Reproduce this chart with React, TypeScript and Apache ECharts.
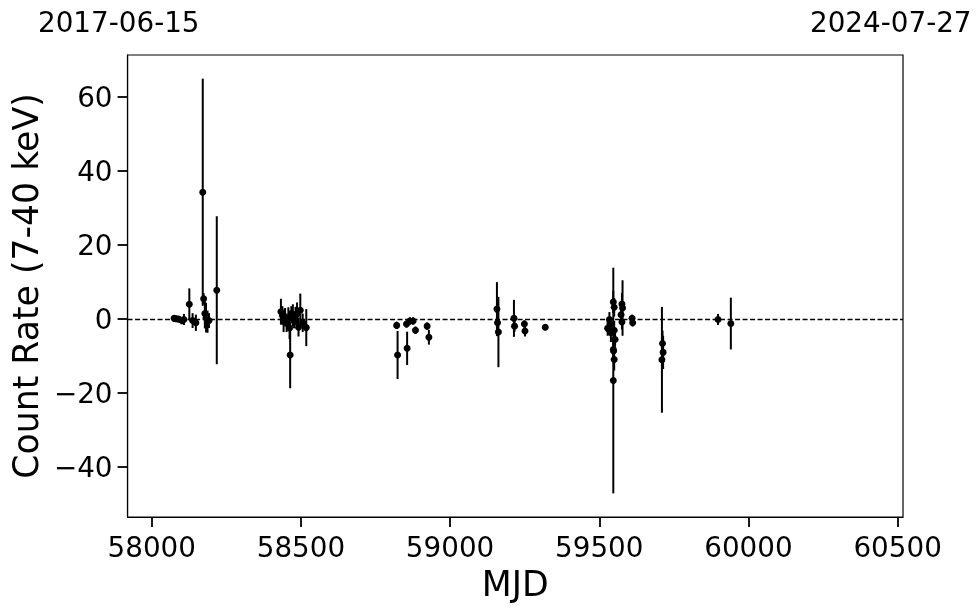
import React, { useEffect, useRef } from "react";
import * as echarts from "echarts";

const mjd = [
  58075, 58082, 58090, 58101, 58108, 58126, 58137, 58148, 58171, 58174, 58178, 58182, 58187, 58192, 58218,
  58433, 58438, 58442, 58447, 58452, 58458, 58462, 58464, 58468, 58473, 58477, 58482, 58487, 58492, 58498, 58506, 58518,
  58821, 58824, 58854, 58856, 58865, 58876, 58884, 58923, 58929,
  59157, 59159, 59162, 59214, 59216, 59249, 59251, 59319,
  59534, 59528, 59537, 59539, 59547, 59550, 59550, 59553, 59547, 59548, 59550, 59547,
  59573, 59576, 59578, 59576, 59610, 59612,
  59710, 59712, 59714, 59898, 59941,
];
const rate = [
  0.2, 0.1, 0.0, -0.4, -0.1, 4.0, -0.4, -1.0, 34.3, 5.5, 1.5, 0.4, -0.7, -0.4, 7.8,
  2.0, 1.0, -0.5, 0.5, -1.0, 0.2, -2.4, -9.7, 1.5, 1.0, -0.5, 0.8, 1.5, -2.2, 2.4, -1.0, -2.3,
  -1.7, -9.7, -1.3, -7.9, -0.5, -0.5, -3.0, -1.9, -4.9,
  2.7, -1.0, -3.5, 0.2, -1.9, -1.3, -3.2, -2.2,
  -0.1, -2.5, -1.4, -3.7, 4.6, 3.2, -3.0, -5.5, -8.2, -8.6, -10.9, -16.6,
  1.2, 4.1, 3.0, -0.8, 0.2, -1.0,
  -11.0, -6.6, -9.0, -0.1, -1.2,
];
const err = [
  0.8, 0.8, 0.8, 1.0, 1.5, 4.3, 2.0, 2.2, 30.7, 1.5, 4.0, 4.0, 3.0, 2.0, 20.0,
  3.5, 2.5, 3.0, 2.5, 2.5, 3.0, 3.0, 9.0, 2.0, 3.0, 2.0, 2.5, 3.0, 2.5, 4.5, 2.5, 5.0,
  1.0, 6.5, 1.0, 4.5, 1.0, 1.0, 1.0, 1.0, 2.0,
  7.3, 1.5, 9.5, 5.0, 1.5, 1.0, 1.5, 0.5,
  2.0, 2.0, 2.0, 2.5, 3.0, 2.5, 2.5, 2.0, 3.0, 3.0, 3.0, 30.5,
  2.0, 3.0, 7.5, 2.0, 1.0, 1.0,
  14.3, 3.5, 4.5, 1.5, 7.0,
];
const xTicks = [58000, 58500, 59000, 59500, 60000, 60500];
const yTicks = [-40, -20, 0, 20, 40, 60];
const startLabel = "2017-06-15";
const endLabel = "2024-07-27";

const FONT = "DejaVu Sans";

export default function App() {
  const ref = useRef<HTMLDivElement>(null);
  useEffect(() => {
    document.body.style.margin = "0";
    const chart = echarts.init(ref.current!, null, { renderer: "svg" });
    const pts = mjd.map((m, i) => [m, rate[i]]);
    const bars = mjd.map((m, i) => [m, rate[i] - err[i], rate[i] + err[i]]);
    chart.setOption({
      animation: false,
      grid: {
        left: 127,
        right: 77,
        top: 55,
        bottom: 96,
        show: true,
        borderColor: "#000",
        borderWidth: 1.2,
        backgroundColor: "transparent",
      },
      xAxis: {
        type: "value",
        min: 57919,
        max: 60518,
        name: "MJD",
        nameLocation: "middle",
        nameGap: 49,
        nameTextStyle: { fontFamily: FONT, fontSize: 34.7, color: "#000" },
        axisLine: { show: true, onZero: false, lineStyle: { color: "#000", width: 1.2 } },
        splitLine: { show: false },
        axisTick: { show: true, length: 10, inside: false, customValues: xTicks, lineStyle: { color: "#000", width: 1.8 } },
        axisLabel: {
          customValues: xTicks,
          fontFamily: FONT,
          fontSize: 27.8,
          color: "#000",
          margin: 16,
          formatter: (v: number) => String(v),
        },
      },
      yAxis: {
        type: "value",
        min: -53.5,
        max: 71.4,
        name: "Count Rate (7-40 keV)",
        nameLocation: "middle",
        nameGap: 76,
        nameTextStyle: { fontFamily: FONT, fontSize: 34.7, color: "#000" },
        axisLine: { show: true, onZero: false, lineStyle: { color: "#000", width: 1.2 } },
        splitLine: { show: false },
        axisTick: { show: true, length: 10, inside: false, customValues: yTicks, lineStyle: { color: "#000", width: 1.8 } },
        axisLabel: {
          customValues: yTicks,
          fontFamily: FONT,
          fontSize: 27.8,
          color: "#000",
          margin: 15,
          formatter: (v: number) => (v < 0 ? "\u2212" + Math.abs(v) : String(v)),
        },
      },
      graphic: [
        { type: "text", left: 38, top: 8, style: { text: startLabel, font: `27.8px "${FONT}"`, fill: "#000" } },
        { type: "text", left: 810, top: 8, style: { text: endLabel, font: `27.8px "${FONT}"`, fill: "#000" } },
      ],
      series: [
        {
          type: "custom",
          clip: true,
          data: bars,
          renderItem: (params: any, api: any) => {
            const x = api.value(0);
            const p1 = api.coord([x, api.value(1)]);
            const p2 = api.coord([x, api.value(2)]);
            return {
              type: "line",
              shape: { x1: p1[0], y1: p1[1], x2: p2[0], y2: p2[1] },
              style: { stroke: "#000", lineWidth: 2 },
            };
          },
          z: 2,
        },
        {
          type: "scatter",
          data: pts,
          symbol: "circle",
          symbolSize: 7,
          itemStyle: { color: "#000", opacity: 1 },
          z: 3,
          markLine: {
            silent: true,
            symbol: "none",
            label: { show: false },
            lineStyle: { color: "#000", type: [5, 2.5], width: 1.4 },
            data: [{ yAxis: 0 }],
          },
        },
      ],
    });
    return () => chart.dispose();
  }, []);
  return <div ref={ref} style={{ position: "fixed", left: 0, top: 0, width: 980, height: 613 }} />;
}
